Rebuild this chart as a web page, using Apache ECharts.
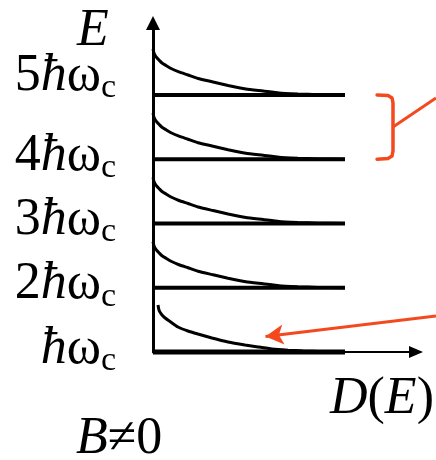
<!DOCTYPE html>
<html><head><meta charset="utf-8">
<script src="https://cdn.jsdelivr.net/npm/echarts@6/dist/echarts.min.js"></script>
<style>html,body{margin:0;padding:0;background:#fff}#c{width:436px;height:460px}</style>
</head><body><div id="c"></div>
<script>
// Landau levels (units of ħω_c) and their tick labels
const levels = [1, 2, 3, 4, 5];
const levelPrefix = { 1: '', 2: '2', 3: '3', 4: '4', 5: '5' };
const levelLineD = [0, 1];
// density-of-states curves: D(E) vs E - level (E in units of ħω_c)
const upperCurveLevels = [2, 3, 4, 5];
const upperCurveD = [0, 0.005, 0.010, 0.021, 0.031, 0.047, 0.068, 0.094, 0.135, 0.182, 0.234, 0.313, 0.391, 0.484, 0.573, 0.656, 0.755, 0.859, 1.0];
const upperCurveOffset = [0.716, 0.654, 0.622, 0.576, 0.545, 0.498, 0.459, 0.412, 0.358, 0.311, 0.257, 0.202, 0.148, 0.093, 0.062, 0.031, 0.016, 0.005, 0];
const lowestCurveD = [0.026, 0.031, 0.036, 0.047, 0.063, 0.089, 0.130, 0.182, 0.234, 0.307, 0.391, 0.479, 0.547, 0.620, 0.703, 0.781, 0.885, 1.0];
const lowestCurveOffset = [0.731, 0.654, 0.622, 0.576, 0.529, 0.475, 0.389, 0.327, 0.280, 0.218, 0.156, 0.109, 0.078, 0.047, 0.028, 0.016, 0.005, 0];
// red annotations
const bracketD = [1.167, 1.224, 1.245, 1.25, 1.25, 1.245, 1.224, 1.167];
const bracketE = [5.0, 4.99, 4.953, 4.875, 4.128, 4.05, 4.013, 4.0];
const stemD = [1.25, 1.474];
const stemE = [4.501, 4.953];
const arrowD = [1.474, 0.586];
const arrowE = [1.56, 1.24];

const FONT = 'Liberation Serif';
const RED = '#f4481f';
const FS = 52;
const base = { fontFamily: FONT, fontSize: FS, lineHeight: FS, fontWeight: 'normal', color: '#000', verticalAlign: 'bottom' };
function richSet(pb, sfx) {
  const r = {};
  r['n' + sfx] = Object.assign({}, base, { padding: [0, 0, pb + 3, 0] });
  r['h' + sfx] = Object.assign({}, base, { fontStyle: 'italic', padding: [0, 0, pb + 3, 0] });
  r['w' + sfx] = Object.assign({}, base, { padding: [0, 0, pb + 3, 0] });
  r['s' + sfx] = { fontFamily: FONT, fontSize: 34, lineHeight: 22, fontWeight: 'normal', color: '#000', verticalAlign: 'bottom', padding: [0, 0, pb, 0] };
  return r;
}
const labelRich = Object.assign({}, richSet(0, ''), richSet(16, 'x'));
const nameRich = {
  i: { fontFamily: FONT, fontSize: FS, fontStyle: 'italic', fontWeight: 'normal', color: '#000' },
  u: { fontFamily: FONT, fontSize: FS, fontWeight: 'normal', color: '#000' }
};

const series = [];
levels.forEach(L => {
  series.push({ type: 'line', data: levelLineD.map(d => [d, L]),
    lineStyle: { color: '#000', width: L === 1 ? 5 : 4 } });
});
upperCurveLevels.forEach(L => {
  series.push({ type: 'line', smooth: 0.15,
    data: upperCurveD.map((d, i) => [d, L + upperCurveOffset[i]]),
    lineStyle: { color: '#000', width: 3 } });
});
series.push({ type: 'line', smooth: 0.15,
  data: lowestCurveD.map((d, i) => [d, 1 + lowestCurveOffset[i]]),
  lineStyle: { color: '#000', width: 3 } });
series.push({ type: 'line', xAxisIndex: 1, yAxisIndex: 1, data: bracketD.map((d, i) => [d, bracketE[i]]),
  lineStyle: { color: RED, width: 3.5, join: 'round', cap: 'round' } });
series.push({ type: 'line', xAxisIndex: 1, yAxisIndex: 1, data: stemD.map((d, i) => [d, stemE[i]]),
  lineStyle: { color: RED, width: 3 } });
series.push({ type: 'line', xAxisIndex: 1, yAxisIndex: 1,
  data: [
    { value: [arrowD[0], arrowE[0]], symbol: 'none' },
    { value: [arrowD[1], arrowE[1]], symbol: 'arrow', symbolSize: [15, 18], symbolRotate: 96.6,
      itemStyle: { color: RED } }
  ],
  showSymbol: true, showAllSymbol: true,
  lineStyle: { color: RED, width: 3 } });
series.forEach(s => {
  s.silent = true; s.clip = false; s.animation = false;
  if (!s.symbol && s.data.every(p => Array.isArray(p))) s.symbol = 'none';
});

const chart = echarts.init(document.getElementById('c'), null, { renderer: 'canvas' });
chart.setOption({
  backgroundColor: '#fff',
  animation: false,
  title: [{
    text: 'E', left: 77, top: 5, padding: 0,
    textStyle: { fontFamily: FONT, fontSize: FS, fontStyle: 'italic', fontWeight: 'normal', color: '#000' }
  }, {
    text: '{i|D}{u|(}{i|E}{u|)}', left: 330, top: 373, padding: 0,
    textStyle: { fontFamily: FONT, fontSize: FS, fontWeight: 'normal', color: '#000', rich: nameRich }
  }, {
    text: '{i|B}{u|≠0}', left: 76, top: 413, padding: 0,
    textStyle: { fontFamily: FONT, fontSize: FS, fontWeight: 'normal', color: '#000', rich: nameRich }
  }],
  grid: [
    { left: 153, right: 20, top: 23, bottom: 108, outerBoundsMode: 'none', containLabel: false },
    { left: 153, right: 0, top: 23, bottom: 108, outerBoundsMode: 'none', containLabel: false }
  ],
  xAxis: [{
    type: 'value', min: 0, max: 1.37, gridIndex: 0,
    axisLine: { onZero: false, lineStyle: { color: '#000', width: 2 }, symbol: ['none', 'triangle'], symbolSize: [12, 14] },
    axisTick: { show: false }, axisLabel: { show: false }, splitLine: { show: false }
  }, {
    type: 'value', min: 0, max: 1.474, gridIndex: 1, show: false
  }],
  yAxis: [{
    type: 'value', min: 1, max: 6.12, interval: 1, gridIndex: 0,
    axisLine: { onZero: false, lineStyle: { color: '#000', width: 3 }, symbol: ['none', 'triangle'], symbolSize: [14, 14] },
    axisTick: { show: false }, splitLine: { show: false },
    axisLabel: {
      margin: 37,
      formatter: v => {
        if (!(v in levelPrefix) || Math.abs(v - Math.round(v)) > 1e-6) return '';
        const s = v === 5 ? 'x' : '';
        const p = levelPrefix[v];
        return (p ? '{n' + s + '|' + p + '}' : '') + '{h' + s + '|ħ}{w' + s + '|ω}{s' + s + '|c}';
      },
      rich: labelRich
    }
  }, {
    type: 'value', min: 1, max: 6.12, gridIndex: 1, show: false
  }],
  series: series
});
</script></body></html>
